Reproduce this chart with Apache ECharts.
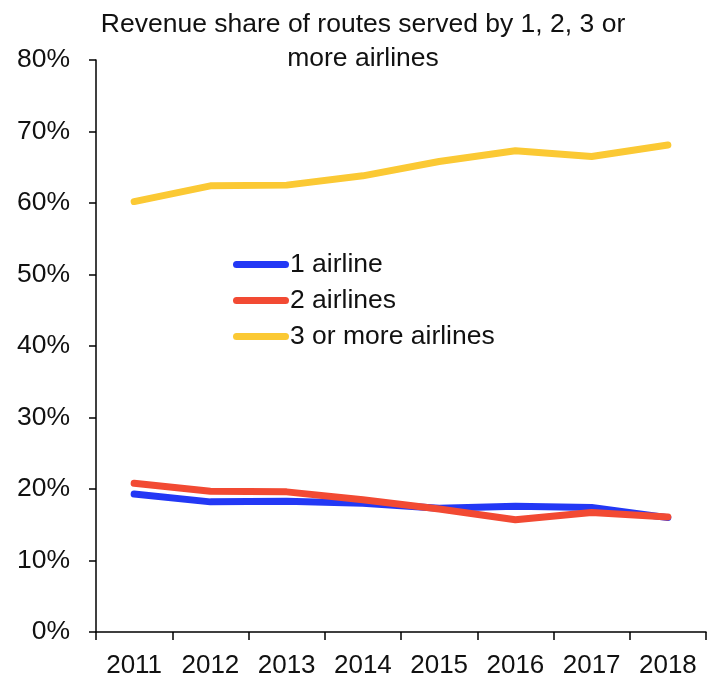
<!DOCTYPE html>
<html><head><meta charset="utf-8">
<script src="https://cdn.jsdelivr.net/npm/echarts@6/dist/echarts.min.js"></script>
<style>html,body{margin:0;padding:0;background:#fff}#c{width:715px;height:681px}</style>
</head><body><div id="c"></div>
<script>
var years = ['2011','2012','2013','2014','2015','2016','2017','2018'];
var oneAirline = [19.3, 18.2, 18.3, 18.0, 17.3, 17.6, 17.4, 16.0];
var twoAirlines = [20.8, 19.7, 19.6, 18.5, 17.2, 15.7, 16.7, 16.1];
var threePlus = [60.2, 62.4, 62.5, 63.8, 65.8, 67.3, 66.5, 68.1];
var seriesNames = ['1 airline', '2 airlines', '3 or more airlines'];
var titleText = 'Revenue share of routes served by 1, 2, 3 or\nmore airlines';

var FONT = '"Liberation Sans", Arial, sans-serif';
var chart = echarts.init(document.getElementById('c'), null, {renderer: 'canvas'});
var capsule = 'path://M3.5,0 L52.5,0 A3.5,3.5 0 0 1 52.5,7 L3.5,7 A3.5,3.5 0 0 1 3.5,0 Z';
function mk(name, data, color) {
  return {name: name, type: 'line', data: data, symbol: 'none', smooth: false,
    lineStyle: {width: 7, color: color, cap: 'round', join: 'round'},
    itemStyle: {color: color}};
}
chart.setOption({
  animation: false,
  title: {text: titleText, left: 358, top: 3, textAlign: 'center',
    textStyle: {fontFamily: FONT, fontSize: 26.5, fontWeight: 'normal', color: '#111', lineHeight: 34}},
  legend: {orient: 'vertical', left: 228, top: 246, itemWidth: 56, itemHeight: 7, itemGap: 9,
    icon: capsule,
    textStyle: {fontFamily: FONT, fontSize: 26.5, color: '#111', padding: [0,0,0,-4]},
    data: seriesNames},
  grid: {left: 96, right: 9, top: 60, bottom: 49, containLabel: false},
  xAxis: {type: 'category', data: years, boundaryGap: true,
    axisLine: {lineStyle: {color: '#000', width: 1.5}},
    axisTick: {show: true, length: 8, lineStyle: {color: '#000', width: 1.5}},
    axisLabel: {fontFamily: FONT, fontSize: 26, color: '#111', margin: 21}},
  yAxis: {type: 'value', min: 0, max: 80, interval: 10,
    axisLine: {show: true, lineStyle: {color: '#000', width: 1.5}},
    axisTick: {show: true, length: 7, lineStyle: {color: '#000', width: 1.5}},
    splitLine: {show: false},
    axisLabel: {fontFamily: FONT, fontSize: 26.5, color: '#111', margin: 26, formatter: '{value}%'}},
  series: [mk(seriesNames[0], oneAirline, '#2338f5'), mk(seriesNames[1], twoAirlines, '#f24a33'), mk(seriesNames[2], threePlus, '#fbc934')]
});
</script></body></html>
